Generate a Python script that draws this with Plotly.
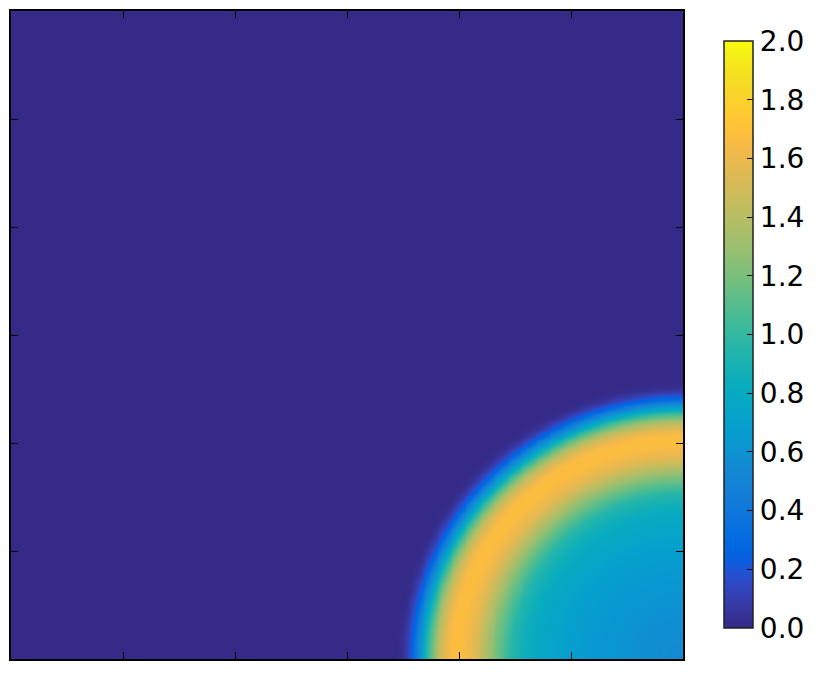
import numpy as np
import plotly.graph_objects as go

# parula (64 entries) colormap
PARULA = [
    (0.2081, 0.1663, 0.5292), (0.2116, 0.1898, 0.5777), (0.2123, 0.2138, 0.6270), (0.2081, 0.2386, 0.6771),
    (0.1959, 0.2645, 0.7279), (0.1707, 0.2919, 0.7792), (0.1253, 0.3242, 0.8303), (0.0591, 0.3598, 0.8683),
    (0.0117, 0.3875, 0.8820), (0.0060, 0.4086, 0.8828), (0.0165, 0.4266, 0.8786), (0.0329, 0.4430, 0.8720),
    (0.0498, 0.4586, 0.8641), (0.0629, 0.4737, 0.8554), (0.0723, 0.4887, 0.8467), (0.0779, 0.5040, 0.8384),
    (0.0793, 0.5200, 0.8312), (0.0749, 0.5375, 0.8263), (0.0641, 0.5570, 0.8240), (0.0488, 0.5772, 0.8228),
    (0.0343, 0.5966, 0.8199), (0.0265, 0.6137, 0.8135), (0.0239, 0.6287, 0.8038), (0.0231, 0.6418, 0.7913),
    (0.0228, 0.6535, 0.7768), (0.0267, 0.6642, 0.7607), (0.0384, 0.6743, 0.7436), (0.0590, 0.6838, 0.7254),
    (0.0843, 0.6928, 0.7062), (0.1133, 0.7015, 0.6859), (0.1453, 0.7098, 0.6646), (0.1801, 0.7177, 0.6424),
    (0.2178, 0.7250, 0.6193), (0.2586, 0.7317, 0.5954), (0.3022, 0.7376, 0.5712), (0.3482, 0.7424, 0.5473),
    (0.3953, 0.7459, 0.5244), (0.4420, 0.7481, 0.5033), (0.4871, 0.7491, 0.4840), (0.5300, 0.7491, 0.4661),
    (0.5709, 0.7485, 0.4494), (0.6099, 0.7473, 0.4337), (0.6473, 0.7456, 0.4188), (0.6834, 0.7435, 0.4044),
    (0.7184, 0.7411, 0.3905), (0.7525, 0.7384, 0.3768), (0.7858, 0.7356, 0.3633), (0.8185, 0.7327, 0.3498),
    (0.8507, 0.7299, 0.3360), (0.8824, 0.7274, 0.3217), (0.9139, 0.7258, 0.3063), (0.9450, 0.7261, 0.2886),
    (0.9739, 0.7314, 0.2666), (0.9938, 0.7455, 0.2403), (0.9990, 0.7653, 0.2164), (0.9955, 0.7861, 0.1967),
    (0.9880, 0.8066, 0.1794), (0.9789, 0.8271, 0.1633), (0.9697, 0.8481, 0.1475), (0.9626, 0.8705, 0.1309),
    (0.9589, 0.8949, 0.1132), (0.9598, 0.9218, 0.0948), (0.9661, 0.9514, 0.0755), (0.9763, 0.9831, 0.0538),
]

# radial profile (distance from bottom-right corner, axis units)
radius = [0.0, 0.4, 0.8, 1.1, 1.38, 1.53, 1.68, 1.79, 1.88, 2.0, 2.08, 2.13, 2.19, 2.28, 2.34, 2.41, 2.46, 2.51, 2.56, 9.0]
value = [0.55, 0.58, 0.64, 0.71, 0.82, 0.95, 1.2, 1.42, 1.58, 1.68, 1.66, 1.57, 1.40, 1.0, 0.65, 0.3, 0.12, 0.03, 0.0, 0.0]

cbar_ticks = [0.0, 0.2, 0.4, 0.6, 0.8, 1.0, 1.2, 1.4, 1.6, 1.8, 2.0]

n = 240
edges = np.linspace(0, 6, n + 1)
mid = (edges[:-1] + edges[1:]) / 2
X, Y = np.meshgrid(mid, mid)
R = np.hypot(6 - X, Y)
Z = np.interp(R, radius, value)

cscale = [[i / (len(PARULA) - 1), "rgb(%d,%d,%d)" % tuple(round(c * 255) for c in rgb)]
          for i, rgb in enumerate(PARULA)]

fig = go.Figure(go.Heatmap(
    x=edges, y=edges, z=Z, zmin=0, zmax=2, zsmooth="best", colorscale=cscale,
    colorbar=dict(
        x=(724 - 11) / 672, xanchor="left", xpad=0,
        y=(659 - 333.5) / 650, yanchor="middle", ypad=0,
        lenmode="pixels", len=587, thickness=29,
        outlinecolor="#222", outlinewidth=1.5,
        tickvals=cbar_ticks, ticktext=["%.1f" % t for t in cbar_ticks],
        ticks="inside", ticklen=6, tickcolor="#000", tickwidth=1,
        tickfont=dict(family="DejaVu Sans", size=28, color="#000"),
    ),
))

axis = dict(range=[0, 6], dtick=1, tick0=0, showticklabels=False, ticks="inside", ticklen=7,
            tickcolor="#000", tickwidth=1, showline=True, linecolor="#000", linewidth=2,
            mirror="ticks", showgrid=False, zeroline=False)
fig.update_xaxes(**axis)
fig.update_yaxes(**axis)
# page body adds an 8px offset, so margins are shifted to compensate
fig.update_layout(width=831, height=686, margin=dict(l=3, r=156, t=1, b=35),
                  paper_bgcolor="white", plot_bgcolor="white")
fig.write_html("out.html")
